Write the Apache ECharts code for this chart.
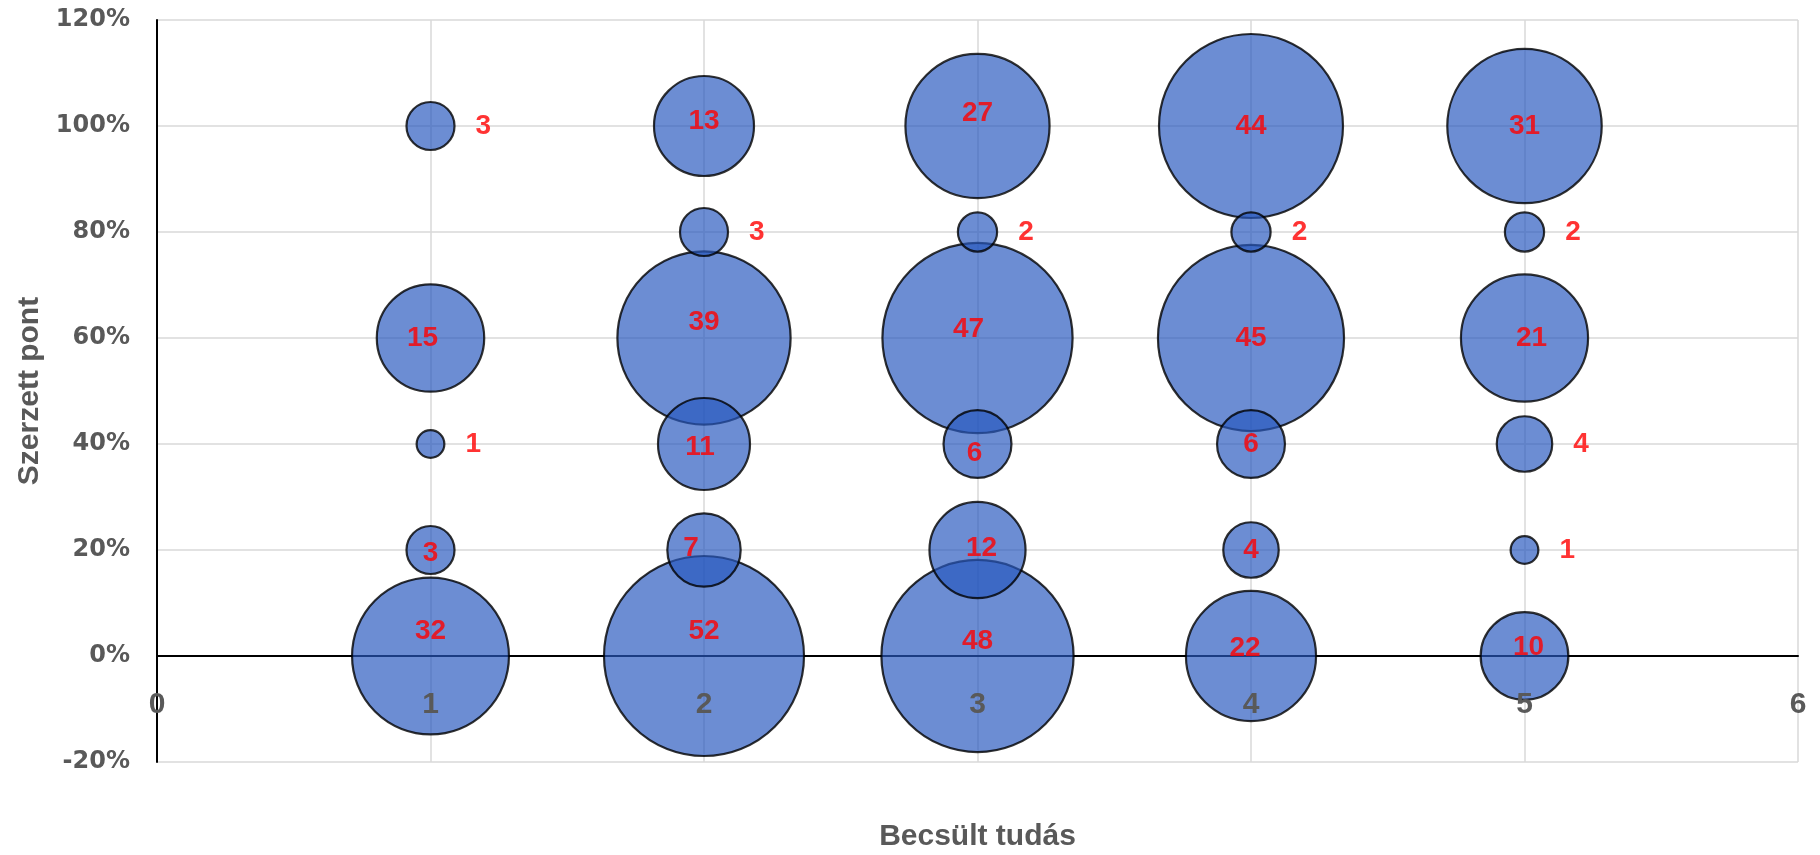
<!DOCTYPE html>
<html>
<head>
<meta charset="utf-8">
<script src="https://cdn.jsdelivr.net/npm/echarts@6/dist/echarts.min.js"></script>
<style>
  html, body { margin: 0; padding: 0; background: #fff; }
  #chart { width: 1820px; height: 855px; }
</style>
</head>
<body>
<div id="chart"></div>
<script>
// Becsült tudás (x) vs. Szerzett pont (y), bubble = number of students
const estimates = [1, 2, 3, 4, 5];
const scoreLevels = [0, 0.2, 0.4, 0.6, 0.8, 1.0];

// counts per score level (0%, 20%, 40%, 60%, 80%, 100%)
const estimate1 = [32, 3, 1, 15, 0, 3];
const estimate2 = [52, 7, 11, 39, 3, 13];
const estimate3 = [48, 12, 6, 47, 2, 27];
const estimate4 = [22, 4, 6, 45, 2, 44];
const estimate5 = [10, 1, 4, 21, 2, 31];

const xRange = [0, 6];
const yRange = [-0.2, 1.2];

const countsByEstimate = [estimate1, estimate2, estimate3, estimate4, estimate5];

// labels that sit beside the bubble instead of on it, and small hand nudges
const rightLabels = ["1|1", "1|0.4", "2|0.8", "3|0.8", "4|0.8", "5|0.8", "5|0.4", "5|0.2"];
const labelNudge = {
  "1|0": [0, -25], "2|0": [0, -25], "3|0": [0, -15], "4|0": [-6, -8], "5|0": [4, -9],
  "2|0.6": [0, -16], "3|0.6": [-9, -9], "3|1": [0, -13], "2|1": [0, -5],
  "1|0.6": [-8, 0], "2|0.2": [-13, -2], "3|0.4": [-3, 9], "2|0.4": [-4, 3],
  "5|0.6": [7, 0], "1|0.2": [0, 3], "3|0.2": [4, -2],
};

const points = [];
estimates.forEach((x, i) => {
  scoreLevels.forEach((y, j) => {
    const n = countsByEstimate[i][j];
    if (n > 0) points.push([x, y, n]);
  });
});
// bigger bubbles first so the small ones stay on top
points.sort((a, b) => b[2] - a[2]);

const seriesData = points.map((p) => {
  const key = p[0] + "|" + p[1];
  const item = { value: p };
  if (rightLabels.includes(key)) {
    item.label = { position: "right", distance: 20 };
  } else if (labelNudge[key]) {
    item.label = { offset: labelNudge[key] };
  }
  return item;
});

const grayText = "#595959";
const boldText = {
  color: grayText,
  fontWeight: "bold",
  fontFamily: "Liberation Sans",
};
const chart = echarts.init(document.getElementById("chart"));

chart.setOption({
  animation: false,
  grid: {
    left: 157,
    right: 22,
    top: 20,
    bottom: 93,
    containLabel: false,
    outerBoundsMode: "none",
  },
  xAxis: [
    {
      type: "value",
      min: xRange[0],
      max: xRange[1],
      interval: 1,
      name: "Becsült tudás",
      nameLocation: "middle",
      nameGap: 60,
      nameTextStyle: { ...boldText, fontSize: 30 },
      axisLine: { onZero: true, lineStyle: { color: "#000", width: 2 } },
      axisTick: { show: false },
      axisLabel: { show: false },
      splitLine: { show: true, lineStyle: { color: "#d9d9d9", width: 1.5 } },
    },
    {
      // label-only copy so the numbers sit above the bubbles
      type: "value",
      position: "bottom",
      offset: 0,
      min: xRange[0],
      max: xRange[1],
      interval: 1,
      z: 10,
      axisLine: { show: false },
      axisTick: { show: false },
      splitLine: { show: false },
      axisLabel: { ...boldText, margin: -72, fontSize: 30 },
    },
  ],
  yAxis: {
    type: "value",
    min: yRange[0],
    max: yRange[1],
    interval: 0.2,
    name: "Szerzett pont",
    nameLocation: "middle",
    nameRotate: 90,
    nameGap: 95,
    nameTextStyle: { ...boldText, fontSize: 30 },
    axisLine: { show: true, lineStyle: { color: "#000", width: 2 } },
    axisTick: { show: false },
    axisLabel: {
      margin: 27,
      color: grayText,
      fontSize: 24,
      fontWeight: "bold",
      fontFamily: "DejaVu Sans",
      formatter: (v) => Math.round(v * 100) + "%",
    },
    splitLine: { show: true, lineStyle: { color: "#d9d9d9", width: 1.5 } },
  },
  series: [
    {
      type: "scatter",
      xAxisIndex: 0,
      data: seriesData,
      symbol: "circle",
      symbolSize: (val) => 27.74 * Math.sqrt(val[2]),
      itemStyle: {
        color: "rgba(40,88,190,0.85)",
        borderColor: "#000",
        borderWidth: 2.2,
      },
      label: {
        show: true,
        position: "inside",
        color: "#ff0000",
        fontSize: 28,
        fontWeight: "bold",
        fontFamily: "Liberation Sans",
        formatter: (p) => p.value[2],
      },
      emphasis: { disabled: true },
    },
  ],
});
</script>
</body>
</html>
